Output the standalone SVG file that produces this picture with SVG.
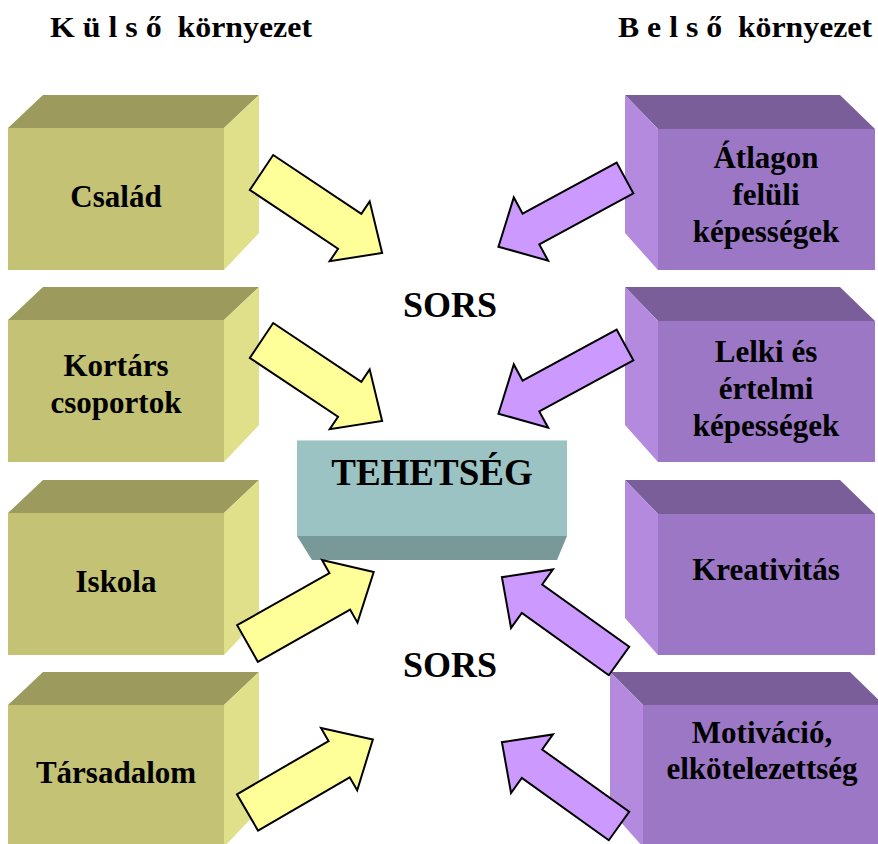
<svg xmlns="http://www.w3.org/2000/svg" xmlns:xlink="http://www.w3.org/1999/xlink" width="878" height="844" viewBox="0 0 878 844">
<style>
text{font-family:"Liberation Serif","Times New Roman",serif;font-weight:bold;fill:#000;text-anchor:middle}
.lbl{font-size:31px}
.hdr{font-size:30px;white-space:pre}
.sors{font-size:36px}
.lf{fill:#C3C275}.lt{fill:#9C9A5C}.ls{fill:#E0DF8A}
.rf{fill:#9B77C5}.rt{fill:#7A5E99}.rs{fill:#B38ADD}
.ya{fill:#FFFF99;stroke:#000;stroke-width:2;stroke-linejoin:miter}
.pa{fill:#CC99FF;stroke:#000;stroke-width:2;stroke-linejoin:miter}
</style>
<defs>
<path id="la" d="M0,-21 H106 V-36 L145,0 L106,36 V21 H0 Z"/>
<path id="ra" d="M0,-17.5 H107 V-36 L144,0 L107,36 V17.5 H0 Z"/>
</defs>
<rect width="878" height="844" fill="#fff"/>
<text class="hdr" x="181" y="37" textLength="262" lengthAdjust="spacingAndGlyphs" xml:space="preserve">K ü l s ő  környezet</text>
<text class="hdr" x="745" y="37" textLength="254" lengthAdjust="spacingAndGlyphs" xml:space="preserve">B e l s ő  környezet</text>

<g id="csalad">
<polygon class="lt" points="43,95 259,95 224,128 8,128"/>
<polygon class="ls" points="224,128 259,95 259,233 224,270"/>
<rect class="lf" x="8" y="128" width="216" height="142"/>
<text class="lbl" x="116" y="207">Család</text>
</g>
<g id="kortars">
<polygon class="lt" points="43,287 259,287 224,320 8,320"/>
<polygon class="ls" points="224,320 259,287 259,425 224,462"/>
<rect class="lf" x="8" y="320" width="216" height="142"/>
<text class="lbl" x="116" y="376">Kortárs</text>
<text class="lbl" x="116" y="413">csoportok</text>
</g>
<g id="iskola">
<polygon class="lt" points="43,480 259,480 224,513 8,513"/>
<polygon class="ls" points="224,513 259,480 259,618 224,655"/>
<rect class="lf" x="8" y="513" width="216" height="142"/>
<text class="lbl" x="116" y="592">Iskola</text>
</g>
<g id="tarsadalom">
<polygon class="lt" points="43,672 259,672 224,705 8,705"/>
<polygon class="ls" points="224,705 259,672 259,810 224,847"/>
<rect class="lf" x="8" y="705" width="216" height="142"/>
<text class="lbl" x="116" y="783">Társadalom</text>
</g>

<g id="atlagon">
<polygon class="rt" points="625,95 840,95 875,129 658,129"/>
<polygon class="rs" points="625,95 658,129 658,270 625,233"/>
<rect class="rf" x="658" y="129" width="217" height="141"/>
<text class="lbl" x="766" y="168">Átlagon</text>
<text class="lbl" x="766" y="205">felüli</text>
<text class="lbl" x="766" y="242">képességek</text>
</g>
<g id="lelki">
<polygon class="rt" points="625,287 840,287 875,321 658,321"/>
<polygon class="rs" points="625,287 658,321 658,462 625,425"/>
<rect class="rf" x="658" y="321" width="217" height="141"/>
<text class="lbl" x="766" y="362">Lelki és</text>
<text class="lbl" x="766" y="399">értelmi</text>
<text class="lbl" x="766" y="436">képességek</text>
</g>
<g id="kreativitas">
<polygon class="rt" points="625,480 840,480 875,514 658,514"/>
<polygon class="rs" points="625,480 658,514 658,655 625,618"/>
<rect class="rf" x="658" y="514" width="217" height="141"/>
<text class="lbl" x="766" y="580">Kreativitás</text>
</g>
<g id="motivacio">
<polygon class="rt" points="610,672 850,672 884,705 643,705"/>
<polygon class="rs" points="610,672 643,705 643,847 610,810"/>
<rect class="rf" x="643" y="705" width="241" height="142"/>
<text class="lbl" x="762" y="743">Motiváció,</text>
<text class="lbl" x="762" y="779">elkötelezettség</text>
</g>

<g id="tehetseg">
<rect x="297" y="440" width="270" height="96" fill="#9CC3C3"/>
<line x1="297" y1="440.5" x2="567" y2="440.5" stroke="#C4DEDE" stroke-width="1"/>
<polygon points="297,536 567,536 557,560 312,560" fill="#789998"/>
<text x="432" y="485" style="font-size:37px">TEHETSÉG</text>
</g>

<g id="sors">
<text class="sors" x="450" y="317">SORS</text>
<text class="sors" x="450" y="677">SORS</text>
</g>

<g id="connectors">
<use xlink:href="#la" class="ya" transform="translate(261.5,172.5) rotate(33.7)"/>
<use xlink:href="#la" class="ya" transform="translate(261.5,340.5) rotate(33.7)"/>
<use xlink:href="#la" class="ya" transform="translate(247.5,643.5) rotate(-29.5)"/>
<use xlink:href="#la" class="ya" transform="translate(247.5,812.5) rotate(-30.2)"/>
<use xlink:href="#ra" class="pa" transform="translate(625,178) rotate(151.5)"/>
<use xlink:href="#ra" class="pa" transform="translate(625,345) rotate(151.5)"/>
<use xlink:href="#ra" class="pa" transform="translate(619,661) rotate(-144.4)"/>
<use xlink:href="#ra" class="pa" transform="translate(619,826) rotate(-144.4)"/>
</g>
</svg>
